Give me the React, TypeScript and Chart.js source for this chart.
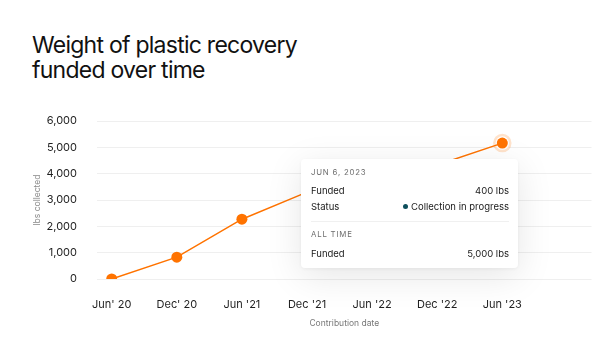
import React, { useEffect, useRef } from "react";
import { Chart, registerables } from "chart.js";

Chart.register(...registerables);

const title = ["Weight of plastic recovery", "funded over time"];
const xLabels = ["Jun' 20", "Dec' 20", "Jun '21", "Dec '21", "Jun '22", "Dec '22", "Jun '23"];
const lbsCollected = [0, 830, 2270, 3300, 3800, 4330, 5160];
const yTicks = [0, 1000, 2000, 3000, 4000, 5000, 6000];
const highlightIndex = 6;
const tooltipDate = "JUN 6, 2023";
const tooltipFunded = "400 lbs";
const tooltipStatus = "Collection in progress";
const tooltipAllTime = "5,000 lbs";

const ORANGE = "#ff7300";
const FONT = "Inter, 'Liberation Sans', Arial, sans-serif";

export default function App() {
  const canvasRef = useRef<HTMLCanvasElement | null>(null);

  useEffect(() => {
    document.body.style.margin = "0";
    const ctx = canvasRef.current!;
    const chart = new Chart(ctx, {
      type: "line",
      data: {
        datasets: [
          {
            data: lbsCollected.map((y, i) => ({ x: i, y })),
            borderColor: ORANGE,
            backgroundColor: ORANGE,
            borderWidth: 1.5,
            pointRadius: 5.5,
            pointBackgroundColor: ORANGE,
            pointBorderWidth: 0,
            order: 1,
          },
          {
            data: lbsCollected
              .map((y, i) => ({ x: i, y }))
              .filter((_, i) => i === highlightIndex),
            showLine: false,
            pointRadius: 8,
            pointBackgroundColor: "#ffffff",
            pointBorderColor: "rgba(255,115,0,0.2)",
            pointBorderWidth: 2.5,
            order: 2,
          },
        ],
      },
      options: {
        animation: false,
        responsive: false,
        events: [],
        layout: { padding: { top: 121, right: 0, left: 0, bottom: 0 } },
        plugins: { legend: { display: false }, tooltip: { enabled: false } },
        scales: {
          x: {
            type: "linear",
            min: -0.226,
            max: 7.37,
            grid: { display: false, drawTicks: false },
            border: { display: false },
            afterBuildTicks: (axis: any) => {
              axis.ticks = xLabels.map((_, i) => ({ value: i }));
            },
            afterFit: (scale: any) => {
              scale.height = 355 - 279;
            },
            ticks: {
              autoSkip: false,
              maxRotation: 0,
              padding: 19,
              color: "#1f1f1f",
              font: { family: FONT, size: 11 },
              callback: (v: any) => xLabels[v] ?? "",
            },
            title: {
              display: true,
              text: "Contribution date",
              color: "#777777",
              font: { family: FONT, size: 8.5 },
              padding: { top: 0, bottom: 26 },
            },
          },
          y: {
            min: 0,
            max: 6000,
            grid: { color: "#efefef", drawTicks: false, lineWidth: 1 },
            border: { display: false },
            afterBuildTicks: (axis: any) => {
              axis.ticks = yTicks.map((v) => ({ value: v }));
            },
            afterFit: (scale: any) => {
              scale.width = 97;
            },
            ticks: {
              padding: 20,
              color: "#1f1f1f",
              font: { family: FONT, size: 11 },
              callback: (v: any) => Number(v).toLocaleString("en-US"),
            },
            title: {
              display: true,
              text: "lbs collected",
              color: "#8a8a8a",
              font: { family: FONT, size: 8.5 },
              padding: { top: 32, bottom: 0 },
            },
          },
        },
      },
    });
    return () => chart.destroy();
  }, []);

  const row = (top: number): React.CSSProperties => ({
    position: "absolute",
    left: 10,
    right: 9,
    top,
    display: "flex",
    justifyContent: "space-between",
    alignItems: "center",
    fontSize: 9.5,
    lineHeight: "10px",
    height: 10,
    color: "#1a1a1a",
  });
  const small = (top: number): React.CSSProperties => ({
    position: "absolute",
    left: 10,
    top,
    fontSize: 7.8,
    lineHeight: "8px",
    letterSpacing: 0.8,
    color: "#6e6e6e",
  });

  return (
    <div
      style={{
        position: "fixed",
        left: 0,
        top: 0,
        width: 602,
        height: 355,
        background: "#ffffff",
        fontFamily: FONT,
        overflow: "hidden",
      }}
    >
      <div
        style={{
          position: "absolute",
          left: 32,
          top: 33,
          fontSize: 23,
          lineHeight: "25px",
          letterSpacing: -0.75,
          color: "#111111",
        }}
      >
        {title.map((t) => (
          <div key={t}>{t}</div>
        ))}
      </div>
      <canvas
        ref={canvasRef}
        width={602}
        height={355}
        style={{ position: "absolute", left: 0, top: 0, width: 602, height: 355 }}
      />
      <div
        style={{
          position: "absolute",
          left: 301,
          top: 159,
          width: 217,
          height: 109,
          boxSizing: "border-box",
          background: "#ffffff",
          borderRadius: 4,
          boxShadow: "0 8px 36px rgba(0,0,0,0.10), 0 1px 4px rgba(0,0,0,0.06)",
        }}
      >
        <div style={small(8.5)}>{tooltipDate}</div>
        <div style={row(27)}>
          <span>Funded</span>
          <span>{tooltipFunded}</span>
        </div>
        <div style={row(42.7)}>
          <span>Status</span>
          <span style={{ display: "flex", alignItems: "center" }}>
            <span
              style={{
                display: "inline-block",
                width: 5,
                height: 5,
                borderRadius: "50%",
                background: "#0e4f5c",
                marginRight: 3,
              }}
            />
            {tooltipStatus}
          </span>
        </div>
        <div
          style={{
            position: "absolute",
            left: 10,
            right: 9,
            top: 61.5,
            borderTop: "1px solid #f0f0f0",
          }}
        />
        <div style={small(71.2)}>ALL TIME</div>
        <div style={row(90)}>
          <span>Funded</span>
          <span>{tooltipAllTime}</span>
        </div>
      </div>
    </div>
  );
}
